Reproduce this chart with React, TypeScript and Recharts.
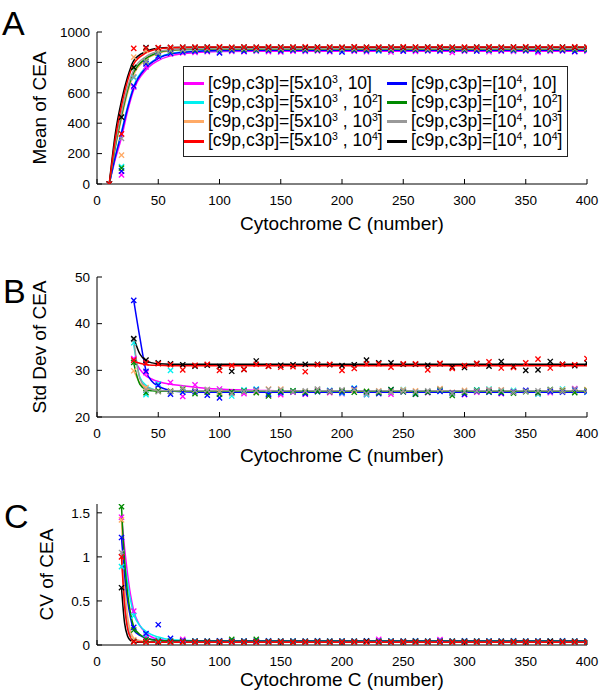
import React from "react";
import { ComposedChart, Line, Scatter, XAxis, YAxis } from "recharts";

const FONT = '"Liberation Sans", Arial, Helvetica, sans-serif';

const xTicks = [0, 50, 100, 150, 200, 250, 300, 350, 400];
const meanTicks = [0, 200, 400, 600, 800, 1000];
const stdTicks = [20, 30, 40, 50];
const cvTicks = [0, 0.5, 1, 1.5];

// ---- panel A: mean of CEA (simulated points) ----
const xMean = [10, 20, 30, 40, 50, 60, 70, 80, 90, 100, 110, 120, 130, 140, 150, 160, 170, 180, 190, 200,
  210, 220, 230, 240, 250, 260, 270, 280, 290, 300, 310, 320, 330, 340, 350, 360, 370, 380, 390, 400];
const meanMagenta = [0, 60, 638, 770, 838, 855, 862, 866, 870, 868, 872, 870, 874, 871, 868, 874, 872, 876, 870, 874,
  873, 870, 876, 868, 874, 872, 876, 873, 866, 874, 876, 870, 874, 872, 876, 866, 874, 876, 870, 874];
const meanCyan = [0, 115, 700, 805, 848, 862, 870, 875, 878, 880, 879, 882, 878, 882, 880, 883, 879, 882, 884, 880,
  882, 878, 876, 882, 880, 883, 881, 878, 882, 880, 884, 879, 882, 878, 881, 883, 880, 882, 884, 881];
const meanBlue = [0, 85, 645, 790, 842, 860, 868, 874, 876, 862, 878, 874, 880, 878, 876, 880, 878, 881, 876, 868,
  879, 877, 880, 878, 876, 880, 879, 877, 880, 878, 876, 880, 878, 881, 879, 875, 880, 878, 872, 880];
const meanGreen = [0, 105, 765, 805, 860, 876, 882, 884, 886, 885, 888, 886, 884, 887, 885, 888, 886, 884, 887, 888,
  886, 885, 887, 884, 888, 886, 885, 887, 886, 884, 888, 886, 887, 885, 886, 888, 884, 887, 885, 886];
const meanOrange = [0, 190, 835, 878, 876, 882, 886, 888, 887, 889, 888, 890, 887, 889, 891, 888, 890, 889, 887, 890,
  888, 891, 889, 887, 890, 888, 889, 891, 888, 890, 887, 889, 891, 888, 890, 889, 887, 890, 888, 889];
const meanGray = [0, 300, 705, 805, 862, 878, 884, 888, 890, 889, 891, 890, 888, 891, 890, 892, 889, 891, 890, 888,
  891, 890, 892, 889, 890, 891, 888, 890, 892, 889, 891, 890, 888, 891, 890, 892, 889, 890, 891, 890];
const meanRed = [0, 330, 892, 893, 897, 899, 900, 901, 899, 902, 900, 901, 899, 902, 900, 901, 903, 899, 901, 900,
  902, 899, 901, 900, 902, 901, 899, 902, 900, 901, 899, 902, 900, 901, 903, 899, 901, 900, 902, 901];
const meanBlack = [0, 440, 768, 897, 895, 898, 900, 899, 901, 900, 898, 901, 900, 899, 901, 900, 898, 901, 900, 899,
  901, 900, 898, 901, 899, 900, 901, 899, 900, 898, 901, 900, 899, 901, 900, 898, 900, 901, 899, 900];

// fitted curves
const fitMeanX = [10, 15, 20, 25, 30, 40, 50, 60, 80, 100, 150, 400];
const fitMeanMagenta = [0, 165, 305, 480, 620, 750, 812, 843, 864, 871, 874, 874];
const fitMeanCyan = [0, 185, 345, 510, 645, 772, 830, 858, 874, 879, 881, 881];
const fitMeanBlue = [0, 180, 335, 500, 635, 765, 826, 855, 872, 878, 880, 880];
const fitMeanOrange = [0, 240, 430, 600, 720, 818, 860, 877, 886, 888, 889, 889];
const fitMeanGreen = [0, 250, 450, 620, 735, 826, 865, 880, 886, 887, 887, 887];
const fitMeanGray = [0, 265, 470, 640, 752, 838, 872, 884, 889, 890, 890, 890];
const fitMeanRed = [0, 300, 515, 680, 790, 862, 889, 897, 900, 901, 901, 901];
const fitMeanBlack = [0, 335, 548, 705, 812, 872, 893, 898, 900, 900, 900, 900];

// ---- panel B: std dev of CEA ----
const xStd = [30, 40, 50, 60, 70, 80, 90, 100, 110, 120, 130, 140, 150, 160, 170, 180, 190, 200, 210,
  220, 230, 240, 250, 260, 270, 280, 290, 300, 310, 320, 330, 340, 350, 360, 370, 380, 390, 400];
const stdMagenta = [32.5, 29.5, 27.0, 27.4, 24.4, 26.9, 25.5, 26.0, 25.2, 25.0, 25.6, 24.7, 24.8, 25.3, 24.9, 25.6, 25.2, 25.0, 25.9,
  24.8, 25.2, 24.9, 25.5, 25.1, 25.2, 25.7, 25.0, 24.8, 25.3, 25.6, 25.0, 25.4, 25.6, 25.0, 25.2, 25.6, 26.1, 25.3];
const stdCyan = [35.9, 24.8, 27.1, 30.0, 25.5, 25.6, 25.9, 25.6, 24.5, 25.8, 26.0, 25.0, 25.2, 25.6, 25.2, 25.9, 25.7, 25.1, 26.2,
  24.8, 25.4, 25.3, 25.9, 25.2, 25.4, 25.6, 25.0, 25.3, 25.8, 26.0, 25.4, 25.7, 25.6, 24.9, 25.4, 26.0, 25.5, 25.3];
const stdBlue = [45.0, 29.8, 26.8, 24.9, 25.3, 25.4, 24.7, 24.1, 25.3, 25.5, 25.8, 24.9, 25.2, 25.4, 25.0, 25.4, 25.6, 25.3, 26.1,
  25.2, 25.0, 25.8, 25.4, 24.9, 25.3, 25.5, 25.2, 24.9, 25.5, 25.3, 25.1, 25.4, 25.7, 25.2, 25.5, 25.3, 25.8, 25.4];
const stdGreen = [31.7, 25.2, 25.6, 25.5, 26.0, 25.0, 25.3, 24.9, 25.4, 25.6, 25.2, 24.5, 25.5, 25.6, 25.3, 25.5, 25.4, 25.6, 25.3,
  25.5, 25.2, 25.9, 25.4, 24.9, 25.3, 25.8, 24.6, 25.2, 25.7, 25.4, 25.3, 25.1, 25.4, 25.2, 25.9, 25.6, 25.2, 25.7];
const stdOrange = [29.9, 26.3, 25.6, 25.6, 25.8, 25.6, 25.9, 25.3, 25.2, 25.4, 25.3, 26.0, 26.0, 25.5, 25.4, 25.9, 25.6, 25.5, 25.7,
  25.4, 25.6, 25.5, 25.8, 25.6, 25.4, 26.1, 25.3, 25.7, 25.5, 25.9, 25.8, 25.5, 25.6, 25.1, 25.6, 25.8, 25.4, 25.9];
const stdGray = [36.6, 25.8, 25.4, 25.5, 26.2, 25.7, 25.8, 25.6, 25.0, 25.5, 25.7, 25.9, 25.8, 25.4, 25.6, 26.0, 25.5, 25.8, 25.9,
  25.0, 25.5, 25.3, 25.6, 25.4, 25.6, 25.9, 25.1, 25.5, 25.6, 25.8, 25.7, 25.3, 25.5, 25.6, 25.8, 25.5, 26.0, 25.6];
const stdRed = [32.2, 31.6, 31.4, 31.2, 30.1, 31.1, 31.3, 30.0, 31.0, 30.2, 31.3, 30.9, 30.7, 30.8, 29.7, 31.2, 31.3, 30.0, 30.4,
  31.4, 31.4, 30.7, 31.4, 31.4, 30.1, 31.5, 30.4, 31.0, 31.5, 31.8, 30.5, 30.6, 31.6, 32.4, 30.5, 31.3, 31.2, 32.5];
const stdBlack = [36.8, 32.2, 31.6, 31.4, 31.2, 30.9, 31.1, 30.8, 29.8, 30.2, 32.0, 30.9, 31.1, 31.2, 31.3, 31.3, 31.2, 31.0, 31.2,
  32.2, 31.6, 31.6, 31.3, 31.3, 31.1, 31.4, 30.7, 30.6, 31.4, 30.9, 31.9, 30.8, 30.0, 30.1, 31.9, 31.3, 31.0, 31.6];

const fitStdX = [30, 35, 40, 45, 50, 60, 70, 80, 100, 150, 200, 400];
const fitStdMagenta = [32.5, 30.2, 28.8, 28.1, 27.6, 27.0, 26.7, 26.4, 26.0, 25.6, 25.4, 25.3];
const fitStdCyan = [35.5, 28.5, 26.8, 26.0, 25.7, 25.6, 25.6, 25.6, 25.6, 25.6, 25.6, 25.6];
const fitStdBlue = [45.0, 37.0, 30.0, 27.6, 26.6, 25.7, 25.4, 25.3, 25.3, 25.3, 25.3, 25.3];
const fitStdOrange = [29.9, 27.3, 26.2, 25.9, 25.7, 25.6, 25.6, 25.6, 25.6, 25.6, 25.6, 25.6];
const fitStdGreen = [31.5, 27.0, 25.9, 25.6, 25.5, 25.5, 25.5, 25.5, 25.5, 25.5, 25.5, 25.5];
const fitStdGray = [36.5, 28.2, 26.4, 25.9, 25.7, 25.6, 25.6, 25.6, 25.6, 25.6, 25.6, 25.6];
const fitStdRed = [32.0, 31.5, 31.2, 31.1, 31.1, 31.0, 31.0, 31.0, 31.0, 31.0, 31.0, 31.0];
const fitStdBlack = [37.0, 33.5, 32.1, 31.6, 31.4, 31.3, 31.3, 31.3, 31.3, 31.3, 31.3, 31.3];

// ---- panel C: CV of CEA ----
const xCv = [20, 30, 40, 50, 60, 70, 80, 90, 100, 110, 120, 130, 140, 150, 160, 170, 180, 190, 200, 210,
  220, 230, 240, 250, 260, 270, 280, 290, 300, 310, 320, 330, 340, 350, 360, 370, 380, 390, 400];
const cvMagenta = [1.45, 0.385, 0.1, 0.05, 0.045, 0.065, 0.04, 0.04, 0.045, 0.04, 0.042, 0.04, 0.04, 0.042, 0.04, 0.04, 0.042, 0.04, 0.04, 0.042,
  0.04, 0.065, 0.04, 0.042, 0.04, 0.04, 0.062, 0.04, 0.042, 0.04, 0.04, 0.042, 0.04, 0.04, 0.042, 0.04, 0.04, 0.042, 0.04];
const cvCyan = [0.89, 0.33, 0.12, 0.06, 0.05, 0.045, 0.044, 0.042, 0.045, 0.043, 0.044, 0.042, 0.045, 0.043, 0.044, 0.042, 0.045, 0.043, 0.044, 0.042,
  0.045, 0.043, 0.044, 0.042, 0.045, 0.043, 0.044, 0.042, 0.045, 0.043, 0.044, 0.042, 0.045, 0.043, 0.044, 0.042, 0.045, 0.043, 0.044];
const cvBlue = [1.22, 0.2, 0.13, 0.23, 0.075, 0.048, 0.046, 0.045, 0.047, 0.045, 0.046, 0.044, 0.047, 0.045, 0.046, 0.045, 0.047, 0.045, 0.046, 0.044,
  0.047, 0.045, 0.046, 0.045, 0.047, 0.045, 0.046, 0.044, 0.047, 0.045, 0.046, 0.045, 0.047, 0.045, 0.046, 0.044, 0.047, 0.045, 0.046];
const cvGreen = [1.57, 0.17, 0.06, 0.045, 0.043, 0.042, 0.043, 0.041, 0.042, 0.065, 0.042, 0.065, 0.042, 0.043, 0.041, 0.042, 0.043, 0.042, 0.041, 0.043,
  0.042, 0.043, 0.041, 0.042, 0.043, 0.042, 0.041, 0.043, 0.042, 0.043, 0.041, 0.042, 0.043, 0.042, 0.041, 0.043, 0.042, 0.043, 0.042];
const cvOrange = [1.42, 0.06, 0.04, 0.038, 0.039, 0.037, 0.038, 0.039, 0.037, 0.038, 0.039, 0.038, 0.037, 0.038, 0.039, 0.037, 0.038, 0.039, 0.038, 0.037,
  0.038, 0.039, 0.037, 0.038, 0.039, 0.038, 0.037, 0.038, 0.039, 0.037, 0.038, 0.039, 0.038, 0.037, 0.038, 0.039, 0.037, 0.038, 0.039];
const cvGray = [1.05, 0.045, 0.037, 0.036, 0.035, 0.037, 0.036, 0.035, 0.036, 0.037, 0.035, 0.036, 0.037, 0.036, 0.035, 0.036, 0.037, 0.035, 0.036, 0.037,
  0.036, 0.035, 0.036, 0.037, 0.035, 0.036, 0.037, 0.036, 0.035, 0.036, 0.037, 0.035, 0.036, 0.037, 0.036, 0.035, 0.036, 0.037, 0.036];
const cvRed = [1.0, 0.035, 0.033, 0.032, 0.031, 0.033, 0.032, 0.031, 0.032, 0.033, 0.031, 0.032, 0.033, 0.032, 0.031, 0.032, 0.033, 0.031, 0.032, 0.033,
  0.032, 0.031, 0.032, 0.033, 0.031, 0.032, 0.033, 0.032, 0.031, 0.032, 0.033, 0.031, 0.032, 0.033, 0.032, 0.031, 0.032, 0.033, 0.032];
const cvBlack = [0.65, 0.04, 0.034, 0.033, 0.032, 0.034, 0.033, 0.032, 0.033, 0.034, 0.032, 0.033, 0.034, 0.033, 0.032, 0.033, 0.034, 0.032, 0.033, 0.034,
  0.04, 0.032, 0.033, 0.034, 0.033, 0.032, 0.033, 0.034, 0.032, 0.033, 0.034, 0.033, 0.032, 0.033, 0.034, 0.04, 0.033, 0.032, 0.033];

const fitCvX = [20, 22.5, 25, 27.5, 30, 35, 40, 50, 60, 100, 400];
const fitCvMagenta = [1.45, 1.1, 0.8, 0.56, 0.39, 0.22, 0.135, 0.065, 0.048, 0.042, 0.042];
const fitCvCyan = [1.25, 0.95, 0.7, 0.5, 0.35, 0.22, 0.155, 0.09, 0.06, 0.045, 0.045];
const fitCvBlue = [1.22, 0.8, 0.5, 0.3, 0.17, 0.11, 0.08, 0.055, 0.048, 0.046, 0.046];
const fitCvOrange = [1.42, 0.7, 0.32, 0.15, 0.08, 0.05, 0.04, 0.038, 0.038, 0.038, 0.038];
const fitCvGreen = [1.57, 0.95, 0.58, 0.35, 0.21, 0.12, 0.08, 0.05, 0.045, 0.042, 0.042];
const fitCvGray = [1.05, 0.5, 0.22, 0.1, 0.06, 0.04, 0.037, 0.036, 0.036, 0.036, 0.036];
const fitCvRed = [1.0, 0.45, 0.18, 0.08, 0.045, 0.035, 0.033, 0.032, 0.032, 0.032, 0.032];
const fitCvBlack = [0.65, 0.25, 0.1, 0.05, 0.035, 0.032, 0.032, 0.032, 0.032, 0.032, 0.032];

const COLORS: Record<string, string> = {
  magenta: "#ff00ff",
  cyan: "#00f0f0",
  orange: "#ffaa66",
  red: "#ff0000",
  blue: "#0000ff",
  green: "#008a00",
  gray: "#999999",
  black: "#000000",
};

// draw order (red ends up on top, like the original)
const ORDER = ["magenta", "cyan", "orange", "blue", "green", "gray", "black", "red"];

const LEGEND_COLS = [
  [
    { key: "magenta", c9p: "5x10", c9pExp: "3", c3p: "10", c3pExp: "", gap: "" },
    { key: "cyan", c9p: "5x10", c9pExp: "3", c3p: "10", c3pExp: "2", gap: " " },
    { key: "orange", c9p: "5x10", c9pExp: "3", c3p: "10", c3pExp: "3", gap: " " },
    { key: "red", c9p: "5x10", c9pExp: "3", c3p: "10", c3pExp: "4", gap: " " },
  ],
  [
    { key: "blue", c9p: "10", c9pExp: "4", c3p: "10", c3pExp: "", gap: "" },
    { key: "green", c9p: "10", c9pExp: "4", c3p: "10", c3pExp: "2", gap: "" },
    { key: "gray", c9p: "10", c9pExp: "4", c3p: "10", c3pExp: "3", gap: "" },
    { key: "black", c9p: "10", c9pExp: "4", c3p: "10", c3pExp: "4", gap: "" },
  ],
];

const pairs = (xs: number[], ys: number[]) => xs.map((x, i) => ({ x, y: ys[i] }));

const XMark = ({ cx, cy, color }: any) => {
  if (cx == null || cy == null) return null;
  const r = 2.6;
  return (
    <path
      d={`M${cx - r},${cy - r}L${cx + r},${cy + r}M${cx - r},${cy + r}L${cx + r},${cy - r}`}
      stroke={color}
      strokeWidth={1.3}
      fill="none"
    />
  );
};

const supStyle: React.CSSProperties = {
  fontSize: "0.6em",
  verticalAlign: "top",
  lineHeight: 1,
  position: "relative",
  top: -1,
};

function LegendBox() {
  return (
    <div
      style={{
        position: "absolute",
        left: 183,
        top: 66,
        width: 383,
        height: 82,
        border: "1px solid #222",
        background: "#fff",
        display: "flex",
        paddingTop: 7,
        boxSizing: "content-box",
      }}
    >
      {LEGEND_COLS.map((col, ci) => (
        <div key={ci} style={{ width: ci === 0 ? 203 : 180 }}>
          {col.map((e) => (
            <div key={e.key} style={{ display: "flex", alignItems: "center", height: 19.2 }}>
              <div style={{ width: 20, height: 3, background: COLORS[e.key], marginRight: 4 }} />
              <span style={{ fontSize: 17.5, whiteSpace: "nowrap", lineHeight: 1 }}>
                [c9p,c3p]=[{e.c9p}
                <sup style={supStyle}>{e.c9pExp}</sup>
                {e.gap}, {e.c3p}
                {e.c3pExp && <sup style={supStyle}>{e.c3pExp}</sup>}]
              </span>
            </div>
          ))}
        </div>
      ))}
    </div>
  );
}

type PanelProps = {
  top: number;
  height: number;
  marginTop: number;
  marginBottom: number;
  xLabelOffset: number;
  yLabelShift: number;
  yDomain: [number, number];
  yTicks: number[];
  yLabel: string;
  xs: number[];
  points: Record<string, number[]>;
  fitX: number[];
  fits: Record<string, number[]>;
};

function Panel({
  top, height, marginTop, marginBottom, xLabelOffset, yLabelShift,
  yDomain, yTicks, yLabel, xs, points, fitX, fits,
}: PanelProps) {
  const tickStyle = { fill: "#000", fontSize: 13.5 };
  return (
    <div style={{ position: "absolute", left: 0, top }}>
      <ComposedChart
        width={600}
        height={height}
        margin={{ top: marginTop, right: 13, bottom: marginBottom, left: 25 }}
      >
        <XAxis
          dataKey="x"
          type="number"
          domain={[0, 400]}
          ticks={xTicks}
          interval={0}
          allowDataOverflow
          height={46}
          tickSize={-5}
          tickMargin={16}
          stroke="#000"
          tick={tickStyle}
          label={{
            value: "Cytochrome C (number)",
            position: "insideBottom",
            offset: xLabelOffset,
            fontSize: 19,
            fill: "#000",
          }}
        />
        <XAxis
          xAxisId="top"
          orientation="top"
          dataKey="x"
          type="number"
          domain={[0, 400]}
          ticks={xTicks}
          interval={0}
          allowDataOverflow
          height={0}
          tickSize={-5}
          stroke="#000"
          tickFormatter={() => ""}
        />
        <YAxis
          type="number"
          domain={yDomain}
          ticks={yTicks}
          interval={0}
          allowDataOverflow
          width={72}
          tickSize={-5}
          tickMargin={12}
          stroke="#000"
          tick={tickStyle}
          label={{
            value: yLabel,
            angle: -90,
            position: "insideLeft",
            offset: 14,
            dx: yLabelShift,
            fontSize: 19,
            fill: "#000",
            style: { textAnchor: "middle" },
          }}
        />
        <YAxis
          yAxisId="right"
          orientation="right"
          type="number"
          domain={yDomain}
          ticks={yTicks}
          interval={0}
          allowDataOverflow
          width={0}
          tickSize={-5}
          stroke="#000"
          tickFormatter={() => ""}
        />
        {ORDER.map((k) => (
          <Line
            key={"fit-" + k}
            data={pairs(fitX, fits[k])}
            dataKey="y"
            type="monotone"
            stroke={COLORS[k]}
            strokeWidth={1.5}
            dot={false}
            activeDot={false}
            legendType="none"
            isAnimationActive={false}
          />
        ))}
        {ORDER.map((k) => (
          <Scatter
            key={"pts-" + k}
            data={pairs(xs, points[k])}
            dataKey="y"
            fill={COLORS[k]}
            shape={(p: any) => <XMark {...p} color={COLORS[k]} />}
            legendType="none"
            isAnimationActive={false}
          />
        ))}
      </ComposedChart>
    </div>
  );
}

const letterStyle: React.CSSProperties = {
  position: "absolute",
  fontSize: 34,
  lineHeight: 1,
  color: "#000",
};

export default function App() {
  return (
    <div
      style={{
        position: "absolute",
        left: 0,
        top: 0,
        width: 600,
        height: 693,
        background: "#fff",
        fontFamily: FONT,
        overflow: "hidden",
      }}
    >
      <Panel
        top={0}
        height={240}
        marginTop={32}
        marginBottom={10}
        xLabelOffset={0}
        yLabelShift={0}
        yDomain={[0, 1000]}
        yTicks={meanTicks}
        yLabel="Mean of CEA"
        xs={xMean}
        points={{
          magenta: meanMagenta, cyan: meanCyan, orange: meanOrange, red: meanRed,
          blue: meanBlue, green: meanGreen, gray: meanGray, black: meanBlack,
        }}
        fitX={fitMeanX}
        fits={{
          magenta: fitMeanMagenta, cyan: fitMeanCyan, orange: fitMeanOrange, red: fitMeanRed,
          blue: fitMeanBlue, green: fitMeanGreen, gray: fitMeanGray, black: fitMeanBlack,
        }}
      />
      <Panel
        top={240}
        height={240}
        marginTop={37}
        marginBottom={17}
        xLabelOffset={1}
        yLabelShift={0}
        yDomain={[20, 50]}
        yTicks={stdTicks}
        yLabel="Std Dev of CEA"
        xs={xStd}
        points={{
          magenta: stdMagenta, cyan: stdCyan, orange: stdOrange, red: stdRed,
          blue: stdBlue, green: stdGreen, gray: stdGray, black: stdBlack,
        }}
        fitX={fitStdX}
        fits={{
          magenta: fitStdMagenta, cyan: fitStdCyan, orange: fitStdOrange, red: fitStdRed,
          blue: fitStdBlue, green: fitStdGreen, gray: fitStdGray, black: fitStdBlack,
        }}
      />
      <Panel
        top={480}
        height={213}
        marginTop={24}
        marginBottom={2}
        xLabelOffset={5}
        yLabelShift={7}
        yDomain={[0, 1.6]}
        yTicks={cvTicks}
        yLabel="CV of CEA"
        xs={xCv}
        points={{
          magenta: cvMagenta, cyan: cvCyan, orange: cvOrange, red: cvRed,
          blue: cvBlue, green: cvGreen, gray: cvGray, black: cvBlack,
        }}
        fitX={fitCvX}
        fits={{
          magenta: fitCvMagenta, cyan: fitCvCyan, orange: fitCvOrange, red: fitCvRed,
          blue: fitCvBlue, green: fitCvGreen, gray: fitCvGray, black: fitCvBlack,
        }}
      />
      <LegendBox />
      <div style={{ ...letterStyle, left: 2, top: 6 }}>A</div>
      <div style={{ ...letterStyle, left: 3, top: 274 }}>B</div>
      <div style={{ ...letterStyle, left: 4, top: 499 }}>C</div>
    </div>
  );
}
